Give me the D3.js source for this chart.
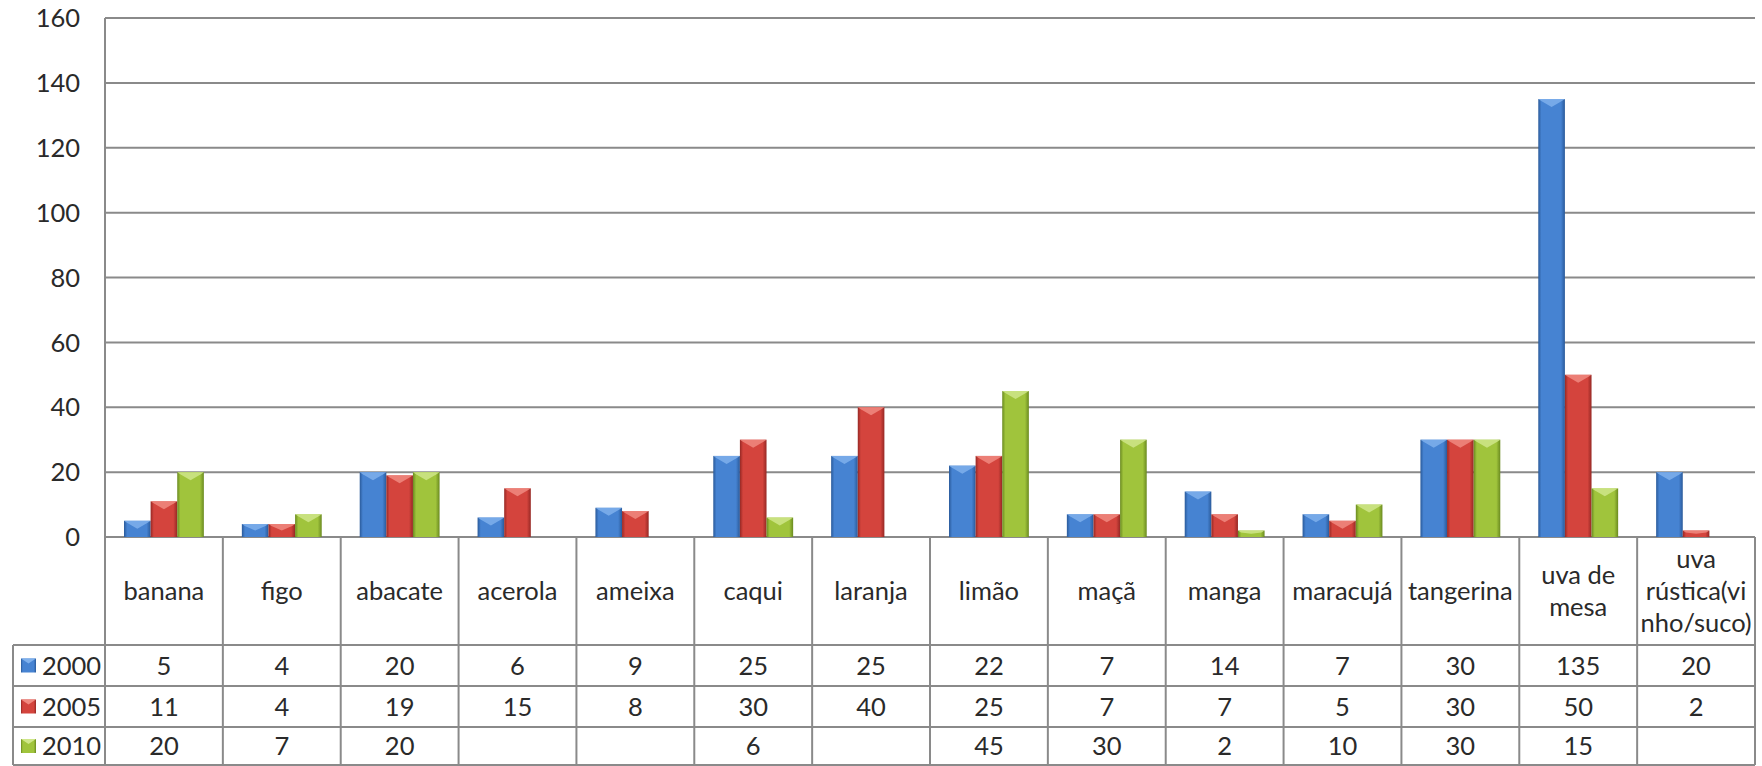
<!DOCTYPE html>
<html lang="pt">
<head>
<meta charset="UTF-8">
<title>Frutas 2000 / 2005 / 2010</title>
<script src="https://d3js.org/d3.v7.min.js"></script>
<style>
  body { margin: 0; background: #fff; overflow: hidden; }
  svg { display: block; }
  text { font-family: Lato, "Open Sans", sans-serif; fill: #2a2a2a; }
</style>
</head>
<body>
<svg id="chart" width="1762" height="766"></svg>
<script>
const categories = ["banana", "figo", "abacate", "acerola", "ameixa", "caqui", "laranja",
  "limão", "maçã", "manga", "maracujá", "tangerina", "uva de\nmesa", "uva\nrústica(vi\nnho/suco)"];
const seriesNames = ["2000", "2005", "2010"];
const values2000 = [5, 4, 20, 6, 9, 25, 25, 22, 7, 14, 7, 30, 135, 20];
const values2005 = [11, 4, 19, 15, 8, 30, 40, 25, 7, 7, 5, 30, 50, 2];
const values2010 = [20, 7, 20, null, null, 6, null, 45, 30, 2, 10, 30, 15, null];
const yTicks = [0, 20, 40, 60, 80, 100, 120, 140, 160];

const seriesValues = [values2000, values2005, values2010];
const palette = [
  { dark: "#2a5a9a", mid: "#4683d2", light: "#7fb0ec" },
  { dark: "#962824", mid: "#d4443d", light: "#f08a80" },
  { dark: "#6a8a20", mid: "#a0c43c", light: "#cfe68a" }
];
const fontSize = 25.5;

const svg = d3.select("#chart");
const plotLeft = 105, plotRight = 1755, plotTop = 18, zeroY = 537;
const rows = [645, 686, 727, 765];
const legendLeft = 13;

const x = d3.scaleBand().domain(d3.range(categories.length)).range([plotLeft, plotRight]);
const xs = d3.scaleBand().domain(d3.range(seriesNames.length)).range([19, x.bandwidth() - 19]);
const y = d3.scaleLinear().domain([0, 160]).range([zeroY, plotTop]);

// gradients
const defs = svg.append("defs");
palette.forEach((c, i) => {
  const g = defs.append("linearGradient").attr("id", "grad" + i)
    .attr("x1", 0).attr("x2", 1).attr("y1", 0).attr("y2", 0);
  g.append("stop").attr("offset", "0%").attr("stop-color", c.dark);
  g.append("stop").attr("offset", "12%").attr("stop-color", c.mid);
  g.append("stop").attr("offset", "85%").attr("stop-color", c.mid);
  g.append("stop").attr("offset", "100%").attr("stop-color", c.dark);
});

// gridlines
svg.append("g").selectAll("line").data(yTicks).join("line")
  .attr("x1", plotLeft).attr("x2", plotRight)
  .attr("y1", d => y(d)).attr("y2", d => y(d))
  .attr("stroke", "#8a8a8a").attr("stroke-width", 2);

// y axis labels
svg.append("g").selectAll("text").data(yTicks).join("text")
  .attr("x", 80).attr("y", d => y(d)).attr("dy", "0.36em")
  .attr("text-anchor", "end").attr("font-size", fontSize)
  .text(d => d);

// bars
const barData = [];
seriesValues.forEach((vals, s) => vals.forEach((v, c) => {
  if (v != null) barData.push({ s, c, v });
}));
const bars = svg.append("g").selectAll("g").data(barData).join("g");
bars.append("rect")
  .attr("x", d => x(d.c) + xs(d.s))
  .attr("y", d => y(d.v))
  .attr("width", xs.bandwidth())
  .attr("height", d => zeroY - y(d.v))
  .attr("fill", d => "url(#grad" + d.s + ")");
bars.append("path")
  .attr("d", d => {
    const x0 = x(d.c) + xs(d.s), w = xs.bandwidth(), y0 = y(d.v);
    const h = Math.min(8, (zeroY - y0) / 2);
    return `M${x0},${y0} L${x0 + w},${y0} L${x0 + w - 3},${y0 + 2} L${x0 + w / 2},${y0 + h} L${x0 + 3},${y0 + 2} Z`;
  })
  .attr("fill", d => palette[d.s].light)
  .attr("opacity", 0.85);

// table lines
const grid = svg.append("g").attr("stroke", "#8a8a8a").attr("stroke-width", 2);
grid.append("line").attr("x1", plotLeft).attr("x2", plotLeft).attr("y1", plotTop).attr("y2", rows[3]);
x.domain().forEach(c => {
  const xe = x(c) + x.bandwidth();
  grid.append("line").attr("x1", xe).attr("x2", xe).attr("y1", zeroY).attr("y2", rows[3]);
});
grid.append("line").attr("x1", legendLeft).attr("x2", legendLeft).attr("y1", rows[0]).attr("y2", rows[3]);
rows.forEach(r => grid.append("line").attr("x1", legendLeft).attr("x2", plotRight).attr("y1", r).attr("y2", r));

// category labels
const catText = svg.append("g").selectAll("text").data(categories).join("text")
  .attr("text-anchor", "middle").attr("font-size", fontSize);
catText.each(function (d, i) {
  const lines = d.split("\n");
  const cx = x(i) + x.bandwidth() / 2;
  const cy = (zeroY + rows[0]) / 2;
  const lh = 32;
  d3.select(this).selectAll("tspan").data(lines).join("tspan")
    .attr("x", cx)
    .attr("y", (l, k) => cy + (k - (lines.length - 1) / 2) * lh)
    .attr("dy", "0.36em")
    .text(l => l);
});

// value rows + legend
seriesNames.forEach((name, s) => {
  const cy = (rows[s] + rows[s + 1]) / 2;
  svg.append("rect").attr("x", 21).attr("y", cy - 7).attr("width", 15).attr("height", 14)
    .attr("fill", "url(#grad" + s + ")");
  svg.append("path")
    .attr("d", `M21,${cy - 7} L36,${cy - 7} L28.5,${cy - 2} Z`)
    .attr("fill", palette[s].light);
  svg.append("text").attr("x", 42).attr("y", cy).attr("dy", "0.36em")
    .attr("font-size", fontSize).text(name);
  svg.append("g").selectAll("text").data(seriesValues[s]).join("text")
    .attr("x", (v, c) => x(c) + x.bandwidth() / 2)
    .attr("y", cy).attr("dy", "0.36em")
    .attr("text-anchor", "middle").attr("font-size", fontSize)
    .text(v => v == null ? "" : v);
});
</script>
</body>
</html>
